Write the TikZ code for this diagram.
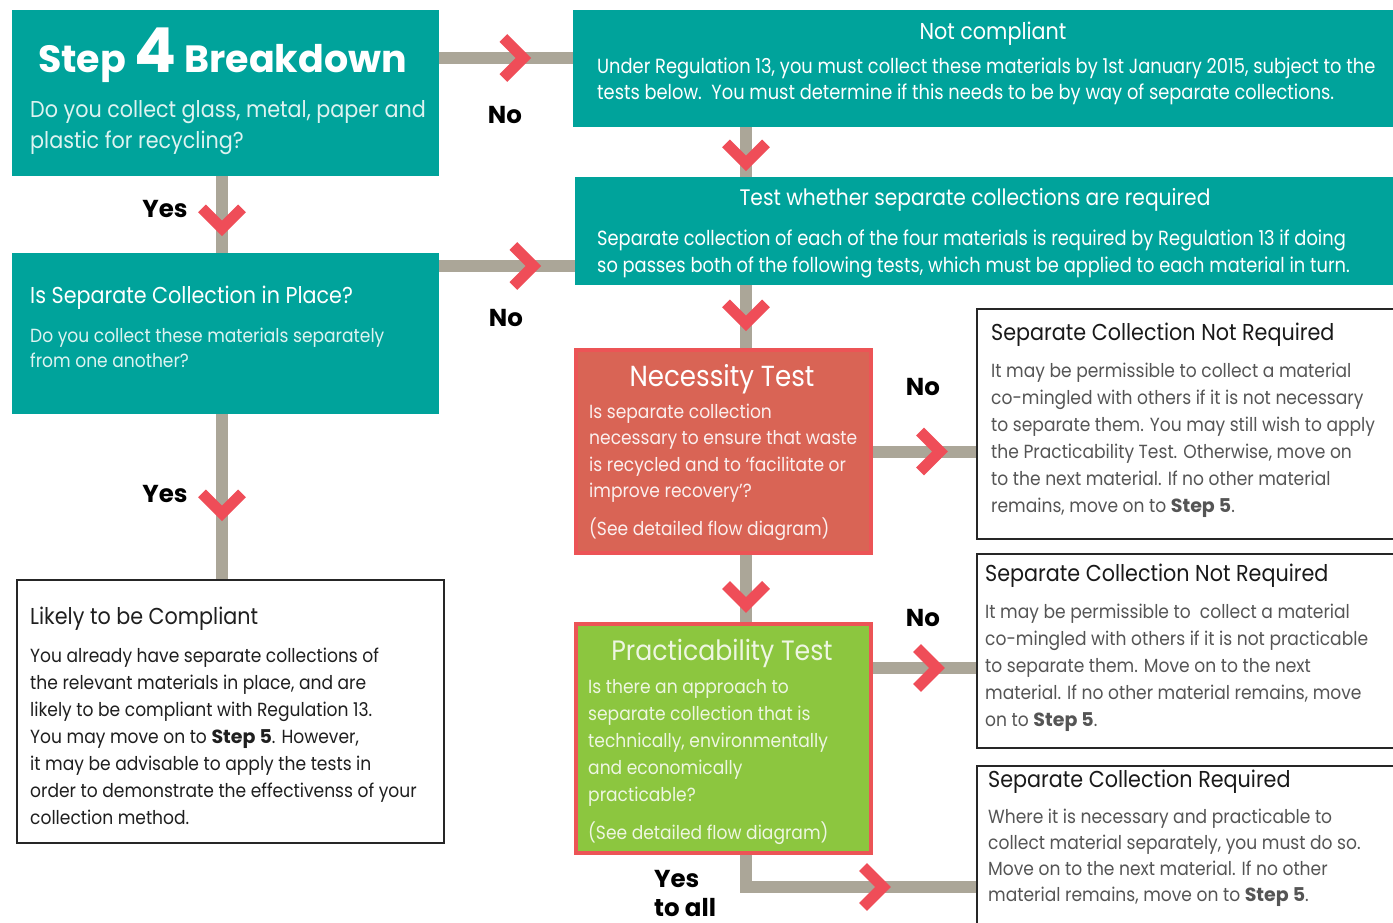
\documentclass[tikz,border=0pt]{standalone}
\usepackage{fontspec}
\setmainfont{Poppins}[FakeStretch=0.9]
\newfontfamily\condf{Poppins}[FakeStretch=0.87]
\newfontfamily\heavyf{Poppins}
\usetikzlibrary{decorations.markings,calc}
\definecolor{tealc}{RGB}{0,163,155}
\definecolor{greyc}{RGB}{171,166,152}
\definecolor{redc}{RGB}{239,77,88}
\definecolor{salmon}{RGB}{217,100,85}
\definecolor{redborder}{RGB}{236,84,86}
\definecolor{greenc}{RGB}{140,198,63}
\definecolor{bodygrey}{RGB}{85,85,85}
\definecolor{lightteal}{RGB}{222,243,241}
\newcommand\ml[1]{\vtop{\halign{##\hfil\cr#1\crcr}}}
\newcommand\stepfive{{\heavyf\bfseries Step 5}}
\newcommand\fs[2]{\fontsize{#1}{#2}\selectfont}
\tikzset{
  box/.style={rectangle, inner sep=0pt, anchor=north west},
  tealbox/.style={box, fill=tealc},
  wbox/.style={box, draw=black!85, line width=1.6pt, fill=white},
  testbox/.style={box, draw=redborder, line width=4pt},
  txt/.style={inner sep=0pt, anchor=base west},
  ctxt/.style={inner sep=0pt, anchor=base},
  lbl/.style={inner sep=0pt, font=\fs{24.5}{29}\heavyf\bfseries},
  conn/.style={draw=greyc, line width=12pt},
  chevron/.style={draw=redc, line width=11pt, line join=miter, line cap=butt},
  chev/.style={postaction={decorate, decoration={markings,
     mark=at position #1 with {\draw[chevron] (-20,-20) -- (0,0) -- (-20,20);}}}},
}
\begin{document}
\begin{tikzpicture}[x=1pt,y=-1pt]
\useasboundingbox (0,0) rectangle (1393,923);
\clip (0,0) rectangle (1393,923);
\fill[white] (0,0) rectangle (1393,923);

% boxes
\node[tealbox, minimum width=427pt, minimum height=166pt] (s4) at (12,10) {};
\node[tealbox, minimum width=825pt, minimum height=117pt] (nc) at (573,10) {};
\node[tealbox, minimum width=823pt, minimum height=108pt] (test) at (575,177) {};
\node[tealbox, minimum width=427pt, minimum height=161pt] (issep) at (12,253) {};
\node[wbox, minimum width=427pt, minimum height=263pt] (likely) at (16,579) {};
\node[testbox, fill=salmon, minimum width=295pt, minimum height=203pt] (nec) at (574,348) {};
\node[testbox, fill=greenc, minimum width=295pt, minimum height=229pt] (prac) at (574,622) {};
\node[wbox, minimum width=425pt, minimum height=230pt] (scnr1) at (976,308) {};
\node[wbox, minimum width=425pt, minimum height=194pt] (scnr2) at (976,553) {};
\node[wbox, minimum width=425pt, minimum height=170pt] (scr) at (976,765) {};

% connectors
\draw[conn, chev=84pt] ([yshift=-48pt]s4.north east) -- ([yshift=-48pt]nc.north west);
\draw[conn, chev=36pt] ([xshift=173pt]nc.south west) coordinate (c1) -- (test.north -| c1);
\draw[conn, chev=52pt] ([xshift=210pt]s4.south west) -- ([xshift=210pt]issep.north west);
\draw[conn, chev=94pt] ([yshift=-13pt]issep.north east) coordinate (c2) -- (test.west |- c2);
\draw[conn, chev=99pt] ([xshift=210pt]issep.south west) coordinate (c3) -- (likely.north -| c3);
\coordinate (c4) at ([xshift=172pt]nec.north west);
\draw[conn, chev=38pt] (c4 |- test.south) -- (c4);
\draw[conn, chev=50pt] ([xshift=172pt]nec.south west) -- ([xshift=172pt]prac.north west);
\draw[conn, chev=67pt] (nec.east) -- (scnr1.west |- nec.east);
\draw[conn, chev=64pt] ([yshift=-46pt]prac.north east) coordinate (c5) -- (scnr2.west |- c5);
\draw[conn, chev=169pt] ([xshift=172pt]prac.south west) |- ([yshift=-122pt]scr.north west);

% redraw test box borders over connector ends
\node[testbox, minimum width=295pt, minimum height=203pt] at (574,348) {};
\node[testbox, minimum width=295pt, minimum height=229pt] at (574,622) {};

% texts: Step 4
\node[txt, text=white] (s4title) at (38,73)
  {\heavyf\bfseries\fs{38}{40}Step \fs{62}{62}4\fs{38}{40} Breakdown};
\node[txt, text=lightteal] (s4body) at (30,118)
  {\fs{23}{31}\ml{Do you collect glass, metal, paper and\cr plastic for recycling?}};

% Not compliant
\node[ctxt, text=white] (nctitle) at (993,40) {\fs{23}{26}Not compliant};
\node[txt, text=white] (ncbody) at (597,74)
  {\condf\fs{20.5}{26}\ml{Under Regulation 13, you must collect these materials by 1st January 2015, subject to the\cr
  tests below.\ \ You must determine if this needs to be by way of separate collections.}};

% Test whether
\node[ctxt, text=white] (testtitle) at (975,206) {\fs{22.5}{26}Test whether separate collections are required};
\node[txt, text=white] (testbody) at (597,245)
  {\condf\fs{20.5}{27}\ml{Separate collection of each of the four materials is required by Regulation 13 if doing\cr
  so passes both of the following tests, which must be applied to each material in turn.}};

% Is separate collection in place
\node[txt, text=white] (isseptitle) at (30,303) {\fs{23}{26}Is Separate Collection in Place?};
\node[txt, text=lightteal] (issepbody) at (30,342)
  {\fs{19}{25}\ml{Do you collect these materials separately\cr from one another?}};

% Necessity
\node[ctxt, text=white] (nectitle) at (722,386) {\fs{29}{30}Necessity Test};
\node[txt, text=white!90!salmon] (necbody) at (589,418)
  {\fs{19}{26.5}\ml{Is separate collection\cr necessary to ensure that waste\cr is recycled and to ‘facilitate or\cr improve recovery’?\cr
  \noalign{\vskip 11pt}(See detailed flow diagram)}};

% Practicability
\node[ctxt, text=white!85!greenc] (practitle) at (722,660) {\fs{28}{30}Practicability Test};
\node[txt, text=white!85!greenc] (pracbody) at (588,693)
  {\fs{19}{27}\ml{Is there an approach to\cr separate collection that is\cr technically, environmentally\cr and economically\cr practicable?\cr
  \noalign{\vskip 11pt}(See detailed flow diagram)}};

% Separate collection not required 1
\node[txt, text=black!90] (s1title) at (991,340) {\fs{23}{26}Separate Collection Not Required};
\node[txt, text=bodygrey] (s1body) at (991,377)
  {\fs{19}{27}\ml{It may be permissible to collect a material\cr co-mingled with others if it is not necessary\cr
  to separate them. You may still wish to apply\cr the Practicability Test. Otherwise, move on\cr
  to the next material. If no other material\cr remains, move on to \stepfive.}};

% Separate collection not required 2
\node[txt, text=black!90] (s2title) at (985,581) {\fs{23}{26}Separate Collection Not Required};
\node[txt, text=bodygrey] (s2body) at (985,618)
  {\fs{19}{27}\ml{It may be permissible to\ \ collect a material\cr co-mingled with others if it is not practicable\cr
  to separate them. Move on to the next\cr material. If no other material remains, move\cr on to \stepfive.}};

% Separate collection required
\node[txt, text=black!90] (s3title) at (988,787) {\fs{23}{26}Separate Collection Required};
\node[txt, text=bodygrey] (s3body) at (988,823)
  {\fs{19}{26.3}\ml{Where it is necessary and practicable to\cr collect material separately, you must do so.\cr
  Move on to the next material. If no other\cr material remains, move on to \stepfive.}};

% Likely to be compliant
\node[txt, text=black!88] (ltitle) at (30,624) {\fs{23}{26}Likely to be Compliant};
\node[txt, text=black!88] (lbody) at (30,662)
  {\fs{19}{27}\ml{You already have separate collections of\cr the relevant materials in place, and are\cr
  likely to be compliant with Regulation 13.\cr You may move on to \stepfive. However,\cr
  it may be advisable to apply the tests in\cr order to demonstrate the effectivenss of your\cr collection method.}};

% labels
\node[lbl] (no1) at (505,115) {No};
\node[lbl] (yes1) at (165,209) {Yes};
\node[lbl] (no2) at (506,318) {No};
\node[lbl] (yes2) at (165,494) {Yes};
\node[lbl] (no3) at (923,387) {No};
\node[lbl] (no4) at (923,618) {No};
\node[lbl, anchor=base west] (yesall) at (654,887) {\ml{Yes\cr to all}};
\end{tikzpicture}
\end{document}
